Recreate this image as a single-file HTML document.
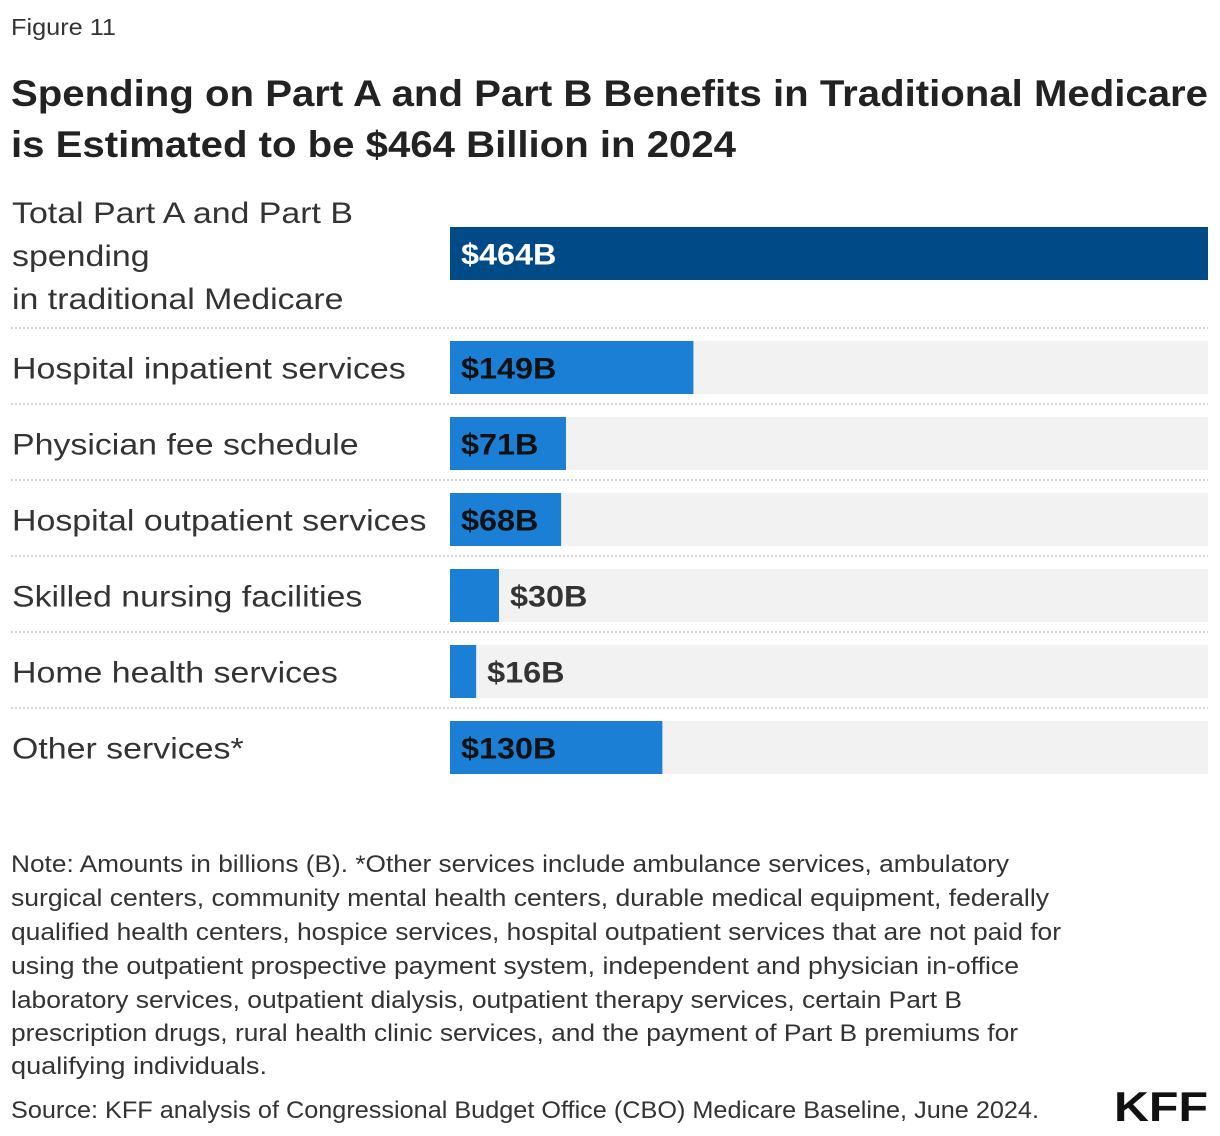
<!DOCTYPE html>
<html><head><meta charset="utf-8"><style>
html,body{margin:0;padding:0;background:#fff;}
svg{display:block;font-family:"Liberation Sans",sans-serif;}
</style></head><body>
<svg id="chart" width="1220" height="1136" viewBox="0 0 1220 1136" xmlns="http://www.w3.org/2000/svg">
<text x="11" y="35" font-size="23" fill="#333" textLength="105" lengthAdjust="spacingAndGlyphs">Figure 11</text>
<text x="11" y="106" font-size="37" font-weight="bold" fill="#222" textLength="1197" lengthAdjust="spacingAndGlyphs">Spending on Part A and Part B Benefits in Traditional Medicare</text>
<text x="11" y="157" font-size="37" font-weight="bold" fill="#222" textLength="725" lengthAdjust="spacingAndGlyphs">is Estimated to be $464 Billion in 2024</text>
<g id="bars"></g>
<g font-size="24" fill="#333">
<text x="11" y="872" textLength="998" lengthAdjust="spacingAndGlyphs">Note: Amounts in billions (B). *Other services include ambulance services, ambulatory</text>
<text x="11" y="906" textLength="1038" lengthAdjust="spacingAndGlyphs">surgical centers, community mental health centers, durable medical equipment, federally</text>
<text x="11" y="940" textLength="1050" lengthAdjust="spacingAndGlyphs">qualified health centers, hospice services, hospital outpatient services that are not paid for</text>
<text x="11" y="974" textLength="1008" lengthAdjust="spacingAndGlyphs">using the outpatient prospective payment system, independent and physician in-office</text>
<text x="11" y="1008" textLength="951" lengthAdjust="spacingAndGlyphs">laboratory services, outpatient dialysis, outpatient therapy services, certain Part B</text>
<text x="11" y="1041" textLength="1007" lengthAdjust="spacingAndGlyphs">prescription drugs, rural health clinic services, and the payment of Part B premiums for</text>
<text x="11" y="1074" textLength="256" lengthAdjust="spacingAndGlyphs">qualifying individuals.</text>
</g>
<text x="11" y="1118" font-size="24" fill="#333" textLength="1028" lengthAdjust="spacingAndGlyphs">Source: KFF analysis of Congressional Budget Office (CBO) Medicare Baseline, June 2024.</text>
<text x="1114" y="1121" font-size="42" font-weight="bold" fill="#111" textLength="94" lengthAdjust="spacingAndGlyphs">KFF</text>
</svg>
<script>
const categories = ["Total Part A and Part B spending in traditional Medicare","Hospital inpatient services","Physician fee schedule","Hospital outpatient services","Skilled nursing facilities","Home health services","Other services*"];
const values = [464,149,71,68,30,16,130];
const valueLabels = ["$464B","$149B","$71B","$68B","$30B","$16B","$130B"];
const NS="http://www.w3.org/2000/svg";
const g=document.getElementById('bars');
const x0=450, xMax=464, plotW=758;
const xScale=v=>v/xMax*plotW;
const rowTop=i=> i===0 ? 227 : 341 + (i-1)*76;
function mk(tag,attrs){const e=document.createElementNS(NS,tag);for(const k in attrs)e.setAttribute(k,attrs[k]);g.appendChild(e);return e;}
function stretch(el,x,s){el.setAttribute('transform','translate('+x+',0) scale('+s+',1) translate('+(-x)+',0)');}
categories.forEach((c,i)=>{
  const y=rowTop(i), h=53;
  const bg=mk('rect',{x:x0,y:y,width:plotW,height:h,fill:'#f2f2f2'});
  
  
  const w=xScale(values[i]);
  const r=mk('rect',{x:x0,y:y,width:w,height:h,fill:i===0?'#004a87':'#1b7fd6'});
  
  
  const inside=w>80;
  const tx=inside?x0+11:x0+w+11;
  const t=mk('text',{x:tx,y:y+h/2+11,'font-size':30,'font-weight':'bold',fill:i===0?'#fff':(inside?'#111':'#333')});
  t.textContent=valueLabels[i];
  stretch(t,tx,1.08);
  
  
  if(i===0){
    ["Total Part A and Part B","spending","in traditional Medicare"].forEach((ln,j)=>{
      const l=mk('text',{x:12,y:223+j*43,'font-size':30,fill:'#333'});
      l.textContent=ln;
      stretch(l,12,1.13);
      
      
    });
  } else {
    const l=mk('text',{x:12,y:y+h/2+11,'font-size':30,fill:'#333'});
    l.textContent=c;
    stretch(l,12,1.13);
    
    
  }
  if(i<categories.length-1){
    const ly=(i===0?328:404+(i-1)*76);
    const sep=mk('line',{x1:11,x2:1208,y1:ly,y2:ly,stroke:'#bbb','stroke-width':1.2,'stroke-dasharray':'2,2'});
    
    
  }
});
</script>
</body></html>
